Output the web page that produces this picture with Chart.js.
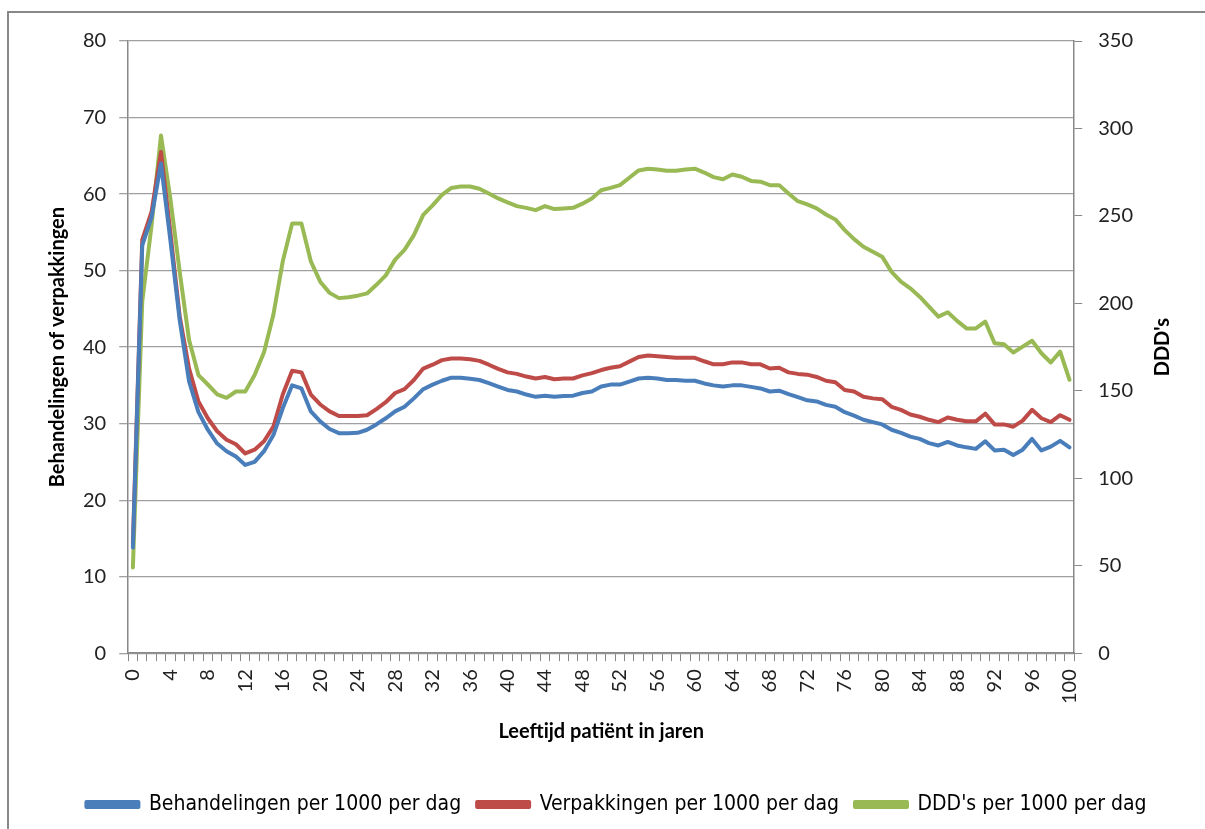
<!DOCTYPE html>
<html lang="nl">
<head>
    <meta charset="UTF-8">
    <style>
        * {
            box-sizing: border-box;
            margin: 0;
            padding: 0;
        }

        body {
            background: #fff;
            width: 1205px;
            height: 829px;
            overflow: hidden;
            position: relative;
        }

        .frame {
            position: absolute;
            left: 7px;
            top: 11px;
            width: 1400px;
            height: 1000px;
            border: 2px solid #888;
        }

        .chart-box {
            position: absolute;
            left: 0;
            top: 0;
            width: 1205px;
            height: 829px;
        }
    </style>
</head>
<body>
    <div class="frame"></div>
    <div class="chart-box">
        <canvas id="ageChart" width="1205" height="829"></canvas>
    </div>

    <script src="https://cdn.jsdelivr.net/npm/chart.js@4.4.1/dist/chart.umd.min.js"></script>
    <script>
        // leeftijden 0..100
        const ages = [];
        for (let a = 0; a <= 100; a++) ages.push(String(a));

        const behandelingen = [
            13.8, 53.3, 57.0, 64.0, 54.0, 43.5, 35.5, 31.5, 29.2, 27.4,
            26.4, 25.7, 24.6, 25.0, 26.4, 28.5, 32.0, 35.0, 34.6, 31.6,
            30.3, 29.3, 28.75, 28.75, 28.8, 29.2, 29.9, 30.7, 31.6, 32.2,
            33.3, 34.5, 35.1, 35.6, 36.0, 36.0, 35.85, 35.7, 35.3, 34.85,
            34.4, 34.2, 33.8, 33.5, 33.65, 33.5, 33.6, 33.65, 34.0, 34.2,
            34.85, 35.1, 35.1, 35.5, 35.9, 36.0, 35.9, 35.7, 35.7, 35.6,
            35.6, 35.25, 35.0, 34.85, 35.0, 35.0, 34.8, 34.6, 34.2, 34.3,
            33.85, 33.45, 33.05, 32.9, 32.45, 32.2, 31.5, 31.05, 30.5, 30.2,
            29.9, 29.2, 28.8, 28.3, 28.0, 27.45, 27.15, 27.6, 27.15, 26.9,
            26.7, 27.7, 26.5, 26.6, 25.9, 26.6, 28.0, 26.5, 27.0, 27.75,
            26.9
        ];

        const verpakkingen = [
            14.3, 54.0, 57.7, 65.5, 55.0, 44.0, 37.2, 32.9, 30.7, 29.0,
            27.9, 27.3, 26.1, 26.6, 27.7, 29.6, 33.8, 36.9, 36.7, 33.8,
            32.5, 31.6, 31.0, 31.0, 31.0, 31.1, 31.9, 32.8, 34.0, 34.5,
            35.7, 37.2, 37.7, 38.3, 38.5, 38.5, 38.4, 38.2, 37.7, 37.15,
            36.7, 36.5, 36.15, 35.9, 36.1, 35.8, 35.9, 35.9, 36.3, 36.6,
            37.0, 37.3, 37.5, 38.1, 38.7, 38.9, 38.8, 38.7, 38.6, 38.6,
            38.6, 38.15, 37.75, 37.75, 38.0, 38.0, 37.75, 37.75, 37.2, 37.3,
            36.7, 36.5, 36.4, 36.1, 35.6, 35.4, 34.4, 34.2, 33.5, 33.3,
            33.2, 32.2, 31.8, 31.2, 30.9, 30.5, 30.2, 30.8, 30.5, 30.3,
            30.3, 31.3, 29.9, 29.9, 29.6, 30.4, 31.8, 30.7, 30.2, 31.1,
            30.5
        ];

        const ddds = [
            49, 201, 245, 296, 260, 218, 179, 159, 153.6, 148,
            146, 149.6, 149.6, 159, 172, 193.5, 224, 245.6, 245.6, 224,
            212.4, 206, 203, 203.5, 204.4, 205.7, 210.6, 216, 225, 230.6,
            239, 250.6, 256, 262, 266, 266.8, 266.8, 265.5, 262.8, 260,
            257.7, 255.6, 254.6, 253.3, 255.6, 253.9, 254.3, 254.6, 257, 260,
            264.7, 266, 267.6, 271.8, 276, 277, 276.5, 275.8, 275.8, 276.5,
            277, 274.8, 272.2, 271, 273.7, 272.4, 270, 269.6, 267.6, 267.6,
            262.8, 258.4, 256.6, 254.3, 250.8, 248, 241.9, 236.7, 232.4, 229.5,
            226.7, 218, 212.4, 208.6, 203.8, 198.1, 192.4, 194.9, 190, 185.7,
            185.7, 189.6, 177.2, 176.6, 171.9, 175.3, 178.6, 171.5, 166.2, 172.4,
            156.3
        ];

        const tickFont = { family: 'Lato, "Open Sans", sans-serif', size: 20 };
        const titleFont = { family: 'Lato, "Open Sans", sans-serif', size: 20, weight: 'bold' };

        // rechter astitel opnieuw tekenen, van onder naar boven gelezen
        const rightTitle = {
            id: 'rightTitle',
            afterDraw(chart) {
                const c = chart.ctx;
                const area = chart.chartArea;
                c.save();
                c.translate(chart.scales.y1.right - 32, (area.top + area.bottom) / 2);
                c.rotate(-Math.PI / 2);
                c.font = 'bold 20px Lato, "Open Sans", sans-serif';
                c.fillStyle = '#000';
                c.textAlign = 'center';
                c.textBaseline = 'middle';
                c.fillText("DDD's", 0, 0);
                c.restore();
            }
        };

        const ctx = document.getElementById('ageChart').getContext('2d');
        new Chart(ctx, {
            type: 'line',
            data: {
                labels: ages,
                datasets: [{
                    label: 'Behandelingen per 1000 per dag',
                    data: behandelingen,
                    borderColor: '#4a7ebb',
                    backgroundColor: '#4a7ebb',
                    yAxisID: 'y'
                }, {
                    label: 'Verpakkingen per 1000 per dag',
                    data: verpakkingen,
                    borderColor: '#be4b48',
                    backgroundColor: '#be4b48',
                    yAxisID: 'y'
                }, {
                    label: "DDD's per 1000 per dag",
                    data: ddds,
                    borderColor: '#98b954',
                    backgroundColor: '#98b954',
                    yAxisID: 'y1'
                }]
            },
            options: {
                responsive: false,
                animation: false,
                devicePixelRatio: 1,
                layout: {
                    padding: { left: 38, right: 10, top: 41, bottom: 4 }
                },
                elements: {
                    line: { borderWidth: 4, tension: 0, borderJoinStyle: 'round', borderCapStyle: 'round' },
                    point: { radius: 0 }
                },
                plugins: {
                    tooltip: { enabled: false },
                    legend: {
                        position: 'bottom',
                        labels: {
                            font: { family: '"Liberation Sans Narrow", "DejaVu Sans Condensed", sans-serif', size: 21 },
                            color: '#000',
                            boxWidth: 52,
                            boxHeight: 5,
                            padding: 16
                        }
                    }
                },
                scales: {
                    x: {
                        offset: true,
                        grid: {
                            drawOnChartArea: false,
                            offset: true,
                            tickLength: 8,
                            color: '#888'
                        },
                        border: { color: '#888', width: 1.5 },
                        ticks: {
                            autoSkip: false,
                            minRotation: 90,
                            maxRotation: 90,
                            padding: 8,
                            font: tickFont,
                            color: '#222',
                            callback: function (val, i) {
                                return i % 4 === 0 ? ages[i] : '';
                            }
                        },
                        title: {
                            display: true,
                            text: 'Leeftijd patiënt in jaren',
                            font: titleFont,
                            color: '#000',
                            padding: { top: 8, bottom: 34 }
                        }
                    },
                    y: {
                        position: 'left',
                        min: 0,
                        max: 80,
                        ticks: { stepSize: 10, padding: 13, font: tickFont, color: '#222' },
                        grid: { color: '#a0a0a0', tickLength: 9, lineWidth: 1.3 },
                        border: { color: '#888', width: 1.5 },
                        title: {
                            display: true,
                            text: 'Behandelingen of verpakkingen',
                            font: titleFont,
                            color: '#000',
                            padding: { top: 8, bottom: 0 }
                        }
                    },
                    y1: {
                        position: 'right',
                        min: 0,
                        max: 350,
                        ticks: { stepSize: 50, padding: 16, font: tickFont, color: '#222' },
                        grid: { drawOnChartArea: false, color: '#888', tickLength: 8 },
                        border: { color: '#888', width: 1.5 },
                        // ruimte voor de titel; zichtbare tekst komt uit de plugin
                        title: {
                            display: true,
                            text: "DDD's",
                            font: titleFont,
                            color: 'rgba(0,0,0,0)',
                            padding: { top: 20, bottom: 2 }
                        }
                    }
                }
            },
            plugins: [rightTitle]
        });
    </script>
</body>
</html>
